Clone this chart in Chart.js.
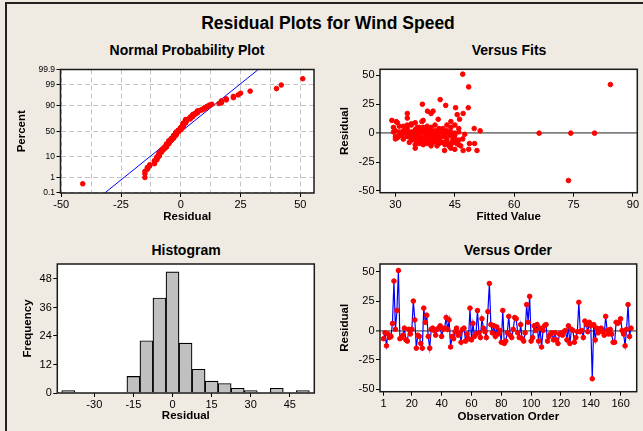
<!doctype html>
<html lang="en">
<head>
<meta charset="utf-8">
<title>Residual Plots for Wind Speed</title>
<script src="https://cdn.jsdelivr.net/npm/chart.js@4.4.1/dist/chart.umd.min.js"></script>
<style>
  body { margin:0; width:643px; height:431px; background:#EFEBE2; overflow:hidden; position:relative;
         font-family:"Liberation Sans", Arial, sans-serif; color:#000; }
  #frame { position:absolute; left:5px; top:2px; width:700px; height:500px;
           border-left:2px solid #222; border-top:2px solid #222; }
  .ttl { position:absolute; font-weight:bold; text-align:center; white-space:nowrap; }
  canvas { position:absolute; }
</style>
</head>
<body>
<div id="frame"></div>
<div class="ttl" style="left:200px;top:11px;width:256px;font-size:17.5px;line-height:24px;">Residual Plots for Wind Speed</div>
<div class="ttl" style="left:87px;top:40px;width:200px;font-size:14px;line-height:20px;">Normal Probability Plot</div>
<div class="ttl" style="left:409px;top:40px;width:200px;font-size:14px;line-height:20px;">Versus Fits</div>
<div class="ttl" style="left:86px;top:240px;width:200px;font-size:14px;line-height:20px;">Histogram</div>
<div class="ttl" style="left:408px;top:240px;width:200px;font-size:14px;line-height:20px;">Versus Order</div>

<canvas id="normCanvas" width="322" height="164" style="left:0;top:60px"></canvas>
<canvas id="fitsCanvas" width="321" height="164" style="left:322px;top:60px"></canvas>
<canvas id="histCanvas" width="322" height="183" style="left:0;top:240px"></canvas>
<canvas id="orderCanvas" width="321" height="184" style="left:322px;top:240px"></canvas>

<script>
// residuals in observation order
var residuals = [
  -7, -2, -13, -3, -6, -5, 6, 42, 1, 17,
  51, -7, -6, -4, 2, -8, -9, 1, -3, 1,
  25, 9, -15, -4, -5, -11, -15, 19, 7, 13,
  -5, -15, 1, 2, 0, -4, 1, 2, 4, -5,
  1, 2, 11, 1, 9, -14, -5, -7, -1, 2,
  -4, -2, -10, 1, 2, -9, -3, -7, 19, -8,
  6, -5, -3, 17, -2, -6, 10, 2, -1, -6,
  16, 40, 5, -2, 4, -5, 3, -3, 0, -10,
  17, -11, -9, -2, 12, -4, -6, 1, 11, 10,
  -2, -6, 5, -7, -9, -2, 22, 7, 29, -9,
  -6, 4, 0, 5, -9, 2, -14, 0, 4, 5,
  -9, -5, -3, -2, -8, -2, -8, -11, -3, -2,
  -4, -1, 0, -8, 4, -11, 1, 0, -10, -6,
  -1, 24, -1, 0, -6, 8, 5, -1, 7, 4,
  -41, 5, -8, 2, -2, 1, 2, -1, -4, 12,
  0, -3, 1, -3, -10, -10, 7, 6, 7, 10,
  0, -3, -13, 1, 22, -5, 2
];
// fitted values, same order
var fittedValues = [
  36, 31, 44, 33, 38, 35, 31, 84.3, 34, 33,
  47, 40, 34, 37, 30, 33.5, 41, 36, 39, 42,
  36.8, 30.5, 42.4, 35, 43, 39, 47.1, 38.1, 34, 33,
  41, 50.6, 29.5, 38, 32, 40, 44, 35, 33, 45,
  37, 41, 29.1, 31, 35, 45, 32, 43, 39, 36,
  34, 44, 37, 40, 32, 45.5, 30, 39, 39.5, 41.5,
  38, 36, 42, 47.1, 35, 44.5, 36.7, 43, 33, 38.5,
  45.6, 48.5, 37, 40, 42, 32, 35, 41, 66.3, 35,
  39, 43.5, 48.7, 37.5, 40.8, 30.5, 46, 38, 37, 30.2,
  42.5, 34, 44, 37, 50, 45, 45.2, 33, 41.3, 38,
  41, 46, 36, 29.5, 44, 39, 48.5, 43, 49.9, 35.5,
  36, 47, 38, 31.5, 42, 40, 45, 40.5, 36, 44,
  39, 34, 74.3, 37, 41, 46.5, 33, 45, 42.5, 35,
  47.5, 42.7, 38, 80.3, 41, 34, 39, 36, 43, 38,
  73.7, 36, 39.5, 51.4, 33, 37, 40, 43, 36, 46.2,
  41, 34, 46, 40, 44, 46, 40, 32, 45, 44,
  39, 38, 35, 42, 48.4, 30, 37
];

// histogram
var histBinCenters = [-40, -35, -30, -25, -20, -15, -10, -5, 0, 5, 10, 15, 20, 25, 30, 35, 40, 45, 50];
var histCounts     = [  1,   0,   0,   0,   0,   7,  22, 40, 51, 21, 10, 5, 4, 2, 1, 0, 2, 0, 1];

// normal plot fitted line (residual at 0.1% and 99.9%)
var fitLineResidual = [-31.7, 32.3];
var fitLinePercent = [0.1, 99.9];

// ticks
var probTickPercents = [0.1, 1, 10, 50, 90, 99, 99.9];
var probTickLabels = ['0.1', '1', '10', '50', '90', '99', '99.9'];
var normXTicks = [-50, -37.5, -25, -12.5, 0, 12.5, 25, 37.5, 50];
var residTicks = [-50, -25, 0, 25, 50];
var fitsXTicks = [30, 45, 60, 75, 90];
var histXTicks = [-30, -15, 0, 15, 30, 45];
var histYTicks = [0, 12, 24, 36, 48];
var orderXTicks = [1, 20, 40, 60, 80, 100, 120, 140, 160];

Chart.defaults.font.family = '"Liberation Sans", Arial, sans-serif';
Chart.defaults.color = '#000';
Chart.defaults.animation = false;

// inverse standard normal (Acklam)
function invNorm(p) {
  var a = [-3.969683028665376e+01, 2.209460984245205e+02, -2.759285104469687e+02, 1.383577518672690e+02, -3.066479806614716e+01, 2.506628277459239e+00];
  var b = [-5.447609879822406e+01, 1.615858368580409e+02, -1.556989798598866e+02, 6.680131188771972e+01, -1.328068155288572e+01];
  var c = [-7.784894002430293e-03, -3.223964580411365e-01, -2.400758277161838e+00, -2.549732539343734e+00, 4.374664141464968e+00, 2.938163982698783e+00];
  var d = [7.784695709041462e-03, 3.224671290700398e-01, 2.445134137142996e+00, 3.754408661907416e+00];
  var q, r;
  if (p < 0.02425) {
    q = Math.sqrt(-2 * Math.log(p));
    return (((((c[0]*q+c[1])*q+c[2])*q+c[3])*q+c[4])*q+c[5]) / ((((d[0]*q+d[1])*q+d[2])*q+d[3])*q+1);
  }
  if (p <= 1 - 0.02425) {
    q = p - 0.5; r = q * q;
    return (((((a[0]*r+a[1])*r+a[2])*r+a[3])*r+a[4])*r+a[5])*q / (((((b[0]*r+b[1])*r+b[2])*r+b[3])*r+b[4])*r+1);
  }
  q = Math.sqrt(-2 * Math.log(1 - p));
  return -(((((c[0]*q+c[1])*q+c[2])*q+c[3])*q+c[4])*q+c[5]) / ((((d[0]*q+d[1])*q+d[2])*q+d[3])*q+1);
}

// white plot area + black frame like minitab
var panelFrame = {
  id: 'panelFrame',
  beforeDraw: function(chart) {
    var a = chart.chartArea, ctx = chart.ctx;
    ctx.save(); ctx.fillStyle = '#fff';
    ctx.fillRect(a.left, a.top, a.right - a.left, a.bottom - a.top);
    ctx.restore();
  },
  afterDraw: function(chart) {
    var a = chart.chartArea, ctx = chart.ctx;
    ctx.save(); ctx.strokeStyle = '#1a1a1a'; ctx.lineWidth = 1.5;
    ctx.strokeRect(a.left, a.top, a.right - a.left, a.bottom - a.top);
    ctx.restore();
  }
};

function axis(o) {
  return {
    type: 'linear', min: o.min, max: o.max, offset: false,
    afterBuildTicks: function(s) { s.ticks = o.ticks.map(function(v) { return {value: v}; }); },
    afterFit: function(s) { if (o.width) s.width = o.width; if (o.height) s.height = o.height; },
    ticks: { autoSkip: false, maxRotation: 0, padding: 1.5, color: '#000',
             font: {size: o.tickSize || 11}, callback: o.label || function(v) { return v; } },
    grid: { display: true, offset: false, drawOnChartArea: true, tickLength: 4, tickWidth: 1,
            color: o.gridColor || 'rgba(0,0,0,0)', lineWidth: o.gridWidth || 1,
            tickColor: o.tickColor || '#000', tickBorderDash: [] },
    border: { display: false, dash: o.dash || [] },
    title: { display: true, text: o.title, color: '#000', padding: 0,
             font: {size: 11.5, weight: 'bold'} }
  };
}

function zeroLine(ctx) { return ctx.tick && ctx.tick.value === 0 ? '#808080' : 'rgba(0,0,0,0)'; }
function zeroWidth(ctx) { return ctx.tick && ctx.tick.value === 0 ? 1.8 : 1; }

var baseOpts = { responsive: false, animation: false, events: [],
  plugins: { legend: {display: false}, tooltip: {enabled: false} } };

// normal probability plot
var n = residuals.length;
var sorted = residuals.slice().sort(function(a, b) { return a - b; });
var normPts = sorted.map(function(v, i) { return {x: v, y: invNorm((i + 1 - 0.3) / (n + 0.4))}; });
var probZ = probTickPercents.map(function(p) { return invNorm(p / 100); });

new Chart(document.getElementById('normCanvas'), {
  type: 'scatter',
  data: { datasets: [
    { data: normPts, pointRadius: 2.3, pointBorderWidth: 1, pointBackgroundColor: '#ff0000', pointBorderColor: '#ff0000' },
    { data: fitLineResidual.map(function(v, i) { return {x: v, y: invNorm(fitLinePercent[i] / 100)}; }),
      showLine: true, borderColor: '#0000ff', borderWidth: 1, pointRadius: 0, clip: 0 }
  ]},
  options: Object.assign({}, baseOpts, {
    layout: { padding: {left: 14.8, top: 9.5, right: 8, bottom: 0.6} },
    scales: {
      x: axis({ min: -50.3, max: 55.7, ticks: normXTicks, height: 30.4, title: 'Residual',
        label: function(v) { return v % 25 === 0 ? v : ''; },
        gridColor: '#c4c4c4', dash: [5, 3],
        tickColor: function(ctx) { return ctx.tick && ctx.tick.value % 25 === 0 ? '#000' : 'rgba(0,0,0,0)'; } }),
      y: axis({ min: -3.1, max: 3.1, ticks: probZ, width: 45.7, title: 'Percent', tickSize: 8.5,
        label: function(v, i) { return probTickLabels[i]; },
        gridColor: '#c4c4c4', dash: [5, 3] })
    }
  }),
  plugins: [panelFrame]
});

// versus fits
new Chart(document.getElementById('fitsCanvas'), {
  type: 'scatter',
  data: { datasets: [
    { data: fittedValues.map(function(f, i) { return {x: f, y: residuals[i]}; }),
      pointRadius: 2.3, pointBorderWidth: 1, pointBackgroundColor: '#ff0000', pointBorderColor: '#ff0000' }
  ]},
  options: Object.assign({}, baseOpts, {
    layout: { padding: {left: 16.4, top: 9.3, right: 5.7, bottom: 0.6} },
    scales: {
      x: axis({ min: 26.1, max: 91.1, ticks: fitsXTicks, height: 30.7, title: 'Fitted Value' }),
      y: axis({ min: -51.5, max: 55.2, ticks: residTicks, width: 41.6, title: 'Residual',
                gridColor: zeroLine, gridWidth: zeroWidth })
    }
  }),
  plugins: [panelFrame]
});

// histogram
new Chart(document.getElementById('histCanvas'), {
  type: 'bar',
  data: { datasets: [
    { data: histBinCenters.map(function(c, i) { return {x: c, y: histCounts[i]}; }),
      backgroundColor: '#c0c0c0', borderColor: '#000', borderWidth: 1.2,
      barPercentage: 1, categoryPercentage: 1 }
  ]},
  options: Object.assign({}, baseOpts, {
    layout: { padding: {left: 21.4, top: 24, right: 7.7, bottom: 0.1} },
    scales: {
      x: axis({ min: -44.2, max: 54.4, ticks: histXTicks, height: 29.9, title: 'Residual' }),
      y: axis({ min: 0, max: 54.3, ticks: histYTicks, width: 35.9, title: 'Frequency' })
    }
  }),
  plugins: [panelFrame]
});

// versus order
new Chart(document.getElementById('orderCanvas'), {
  type: 'scatter',
  data: { datasets: [
    { data: residuals.map(function(r, i) { return {x: i + 1, y: r}; }),
      showLine: true, borderColor: '#0000ff', borderWidth: 1.2,
      pointRadius: 2.3, pointBorderWidth: 1, pointBackgroundColor: '#ff0000', pointBorderColor: '#ff0000' }
  ]},
  options: Object.assign({}, baseOpts, {
    layout: { padding: {left: 16.4, top: 24, right: 6.3, bottom: 0.6} },
    scales: {
      x: axis({ min: -1.35, max: 170.8, ticks: orderXTicks, height: 31.7, title: 'Observation Order' }),
      y: axis({ min: -52, max: 56.5, ticks: residTicks, width: 41.6, title: 'Residual',
                gridColor: zeroLine, gridWidth: zeroWidth })
    }
  }),
  plugins: [panelFrame]
});
</script>
</body>
</html>
